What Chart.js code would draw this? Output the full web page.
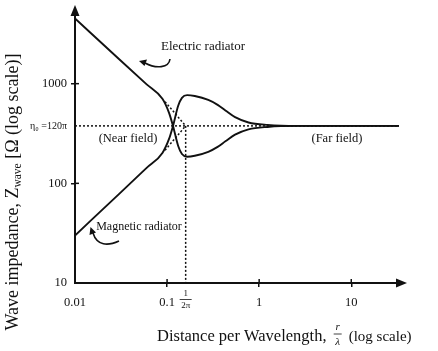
<!DOCTYPE html>
<html>
<head>
<meta charset="utf-8">
<script src="https://cdn.jsdelivr.net/npm/chart.js@4.4.1/dist/chart.umd.min.js"></script>
<style>
  html, body { margin: 0; padding: 0; background: #fff; }
  canvas { display: block; }
</style>
</head>
<body>
<canvas id="waveChart" width="438" height="351"></canvas>
<script>
// r/lambda values (log axis)
const distance  = [0.01, 0.03, 0.06, 0.089, 0.105, 0.116, 0.132, 0.145, 0.165, 0.2, 0.28, 0.354, 0.43, 0.547, 0.766, 1.23, 2.54, 33];
const electricZ = [4500, 1770, 984, 705, 510, 377, 237, 197, 185, 189, 207, 232, 264, 308, 348, 368, 377, 377];
const magneticZ = [30, 78, 143, 202, 279, 377, 600, 721, 768, 752, 686, 613, 538, 461, 408, 386, 377, 377];

// free-space impedance and the near/far boundary
const eta = 120 * Math.PI;
const boundary = 1 / (2 * Math.PI);

// dotted asymptotes (start points)
const electricAsym = [[0.095, 660], [boundary, eta]];
const magneticAsym = [[0.095, 215], [boundary, eta]];

const xTickValues = [0.01, 0.1, boundary, 1, 10];
const xTickLabels = ['0.01', '0.1', '1/2π', '1', '10'];
const yTickValues = [10, 100, eta, 1000];
const yTickLabels = ['10', '100', 'η₀ =120π', '1000'];

const serif = '"Liberation Serif", "Times New Roman", serif';
const ink = '#111';

const toPoints = (xs, ys) => xs.map((v, i) => ({ x: v, y: ys[i] }));
const pairs = arr => arr.map(p => ({ x: p[0], y: p[1] }));

// arrows, inner tick halves, fraction label, titles and callouts
const overlay = {
  id: 'overlay',
  afterDraw(chart) {
    const { ctx, chartArea: a, scales } = chart;
    const xs = scales.x, ys = scales.y;
    ctx.save();
    ctx.fillStyle = ink;
    ctx.strokeStyle = ink;

    // axis arrowheads
    ctx.beginPath();
    ctx.moveTo(a.left, a.top - 9);
    ctx.lineTo(a.left - 4.5, a.top + 2);
    ctx.lineTo(a.left + 4.5, a.top + 2);
    ctx.closePath();
    ctx.fill();
    ctx.beginPath();
    ctx.moveTo(a.right + 8, a.bottom);
    ctx.lineTo(a.right - 3, a.bottom - 4.5);
    ctx.lineTo(a.right - 3, a.bottom + 4.5);
    ctx.closePath();
    ctx.fill();

    // tick marks cross the axes
    ctx.lineWidth = 1.5;
    [100, 1000].forEach(v => {
      const py = ys.getPixelForValue(v);
      ctx.beginPath(); ctx.moveTo(a.left, py); ctx.lineTo(a.left + 4, py); ctx.stroke();
    });
    [0.1, 1, 10].forEach(v => {
      const px = xs.getPixelForValue(v);
      ctx.beginPath(); ctx.moveTo(px, a.bottom); ctx.lineTo(px, a.bottom - 4); ctx.stroke();
    });

    // 1/2π as a fraction
    const fx = xs.getPixelForValue(boundary);
    ctx.textAlign = 'center';
    ctx.textBaseline = 'middle';
    ctx.font = '9px ' + serif;
    ctx.fillText('1', fx, a.bottom + 11);
    ctx.fillText('2π', fx, a.bottom + 23);
    ctx.lineWidth = 0.8;
    ctx.beginPath(); ctx.moveTo(fx - 6, a.bottom + 16.5); ctx.lineTo(fx + 6, a.bottom + 16.5); ctx.stroke();

    // y title with subscript
    ctx.save();
    ctx.translate(13, 192);
    ctx.rotate(-Math.PI / 2);
    ctx.textAlign = 'left';
    const big = '18px ' + serif, small = '11.5px ' + serif;
    const p1 = 'Wave impedance, Z', p2 = 'wave', p3 = ' [Ω (log scale)]';
    ctx.font = big;
    const w1 = ctx.measureText(p1).width, w3 = ctx.measureText(p3).width;
    ctx.font = small;
    const w2 = ctx.measureText(p2).width;
    let cx = -(w1 + w2 + w3) / 2;
    ctx.font = big; ctx.fillText(p1, cx, 0); cx += w1;
    ctx.font = small; ctx.fillText(p2, cx, 5); cx += w2;
    ctx.font = big; ctx.fillText(p3, cx, 0);
    ctx.restore();

    // x title with r/λ fraction
    ctx.textAlign = 'left';
    ctx.font = '16.5px ' + serif;
    const t1 = 'Distance per Wavelength, ', t2 = '(log scale)';
    let tx = 157;
    const ty = 337;
    ctx.fillText(t1, tx, ty);
    tx += ctx.measureText(t1).width + 3;
    ctx.font = 'italic 11px ' + serif;
    ctx.textAlign = 'center';
    ctx.fillText('r', tx + 4, ty - 10);
    ctx.fillText('λ', tx + 4, ty + 5);
    ctx.lineWidth = 0.8;
    ctx.beginPath(); ctx.moveTo(tx, ty - 3); ctx.lineTo(tx + 8, ty - 3); ctx.stroke();
    ctx.textAlign = 'left';
    ctx.font = '15px ' + serif;
    ctx.fillText(t2, tx + 15, ty);

    // region labels
    const etaY = ys.getPixelForValue(eta);
    ctx.font = '12.5px ' + serif;
    ctx.textAlign = 'center';
    ctx.fillText('(Near field)', 128, etaY + 13);
    ctx.fillText('(Far field)', 337, etaY + 13);

    // callouts
    ctx.font = '13px ' + serif;
    ctx.fillText('Electric radiator', 203, 47);
    ctx.font = '12px ' + serif;
    ctx.fillText('Magnetic radiator', 139, 227);
    ctx.lineWidth = 1.6;
    ctx.beginPath();
    ctx.moveTo(170, 59);
    ctx.bezierCurveTo(169, 68, 156, 69, 145, 63);
    ctx.stroke();
    ctx.beginPath();
    ctx.moveTo(139, 61); ctx.lineTo(147, 59.5); ctx.lineTo(144.5, 66); ctx.closePath(); ctx.fill();
    ctx.beginPath();
    ctx.moveTo(119, 241);
    ctx.bezierCurveTo(108, 246, 97, 246, 93, 233);
    ctx.stroke();
    ctx.beginPath();
    ctx.moveTo(90.5, 227); ctx.lineTo(89.5, 235); ctx.lineTo(96, 232.5); ctx.closePath(); ctx.fill();

    ctx.restore();
  }
};

const solid = { borderColor: ink, borderWidth: 1.9, pointRadius: 0, fill: false, cubicInterpolationMode: 'monotone' };
const dotted = { borderColor: ink, borderWidth: 1.5, borderDash: [2, 2], pointRadius: 0, fill: false, tension: 0 };

const ctx = document.getElementById('waveChart').getContext('2d');
new Chart(ctx, {
  type: 'line',
  data: {
    datasets: [
      Object.assign({ label: 'eta', data: pairs([[0.01, eta], [33, eta]]) }, dotted),
      Object.assign({ label: 'boundary', data: pairs([[boundary, eta], [boundary, 10]]) }, dotted),
      Object.assign({ label: 'electric asymptote', data: pairs(electricAsym) }, dotted),
      Object.assign({ label: 'magnetic asymptote', data: pairs(magneticAsym) }, dotted),
      Object.assign({ label: 'Electric radiator', data: toPoints(distance, electricZ) }, solid),
      Object.assign({ label: 'Magnetic radiator', data: toPoints(distance, magneticZ) }, solid),
    ],
  },
  options: {
    responsive: false,
    devicePixelRatio: 1,
    animation: false,
    layout: { padding: { top: 14, right: 39, left: 0, bottom: 0 } },
    plugins: { legend: { display: false }, tooltip: { enabled: false } },
    scales: {
      x: {
        type: 'logarithmic',
        min: 0.01,
        max: 33,
        afterBuildTicks: s => { s.ticks = xTickValues.map(v => ({ value: v })); },
        afterFit: s => { s.height = 68; },
        border: { display: true, color: ink, width: 2 },
        grid: {
          drawOnChartArea: false,
          tickLength: 4,
          lineWidth: 1.5,
          color: c => (c.tick && (c.tick.value === 0.01 || c.tick.value === boundary)) ? 'rgba(0,0,0,0)' : ink,
        },
        ticks: {
          autoSkip: false,
          maxRotation: 0,
          padding: 8,
          color: ink,
          font: { family: serif, size: 12.5 },
          callback: function (v, i) {
            const lbl = xTickLabels[i];
            return lbl.indexOf('/') >= 0 ? '' : lbl;
          },
        },
      },
      y: {
        type: 'logarithmic',
        min: 10,
        max: 5000,
        afterBuildTicks: s => { s.ticks = yTickValues.map(v => ({ value: v })); },
        afterFit: s => { s.width = 75; },
        border: { display: true, color: ink, width: 2 },
        grid: {
          drawOnChartArea: false,
          tickLength: 4,
          lineWidth: 1.5,
          color: c => (c.tick && (c.tick.value === 10 || c.tick.value === eta)) ? 'rgba(0,0,0,0)' : ink,
        },
        ticks: {
          autoSkip: false,
          padding: 4,
          color: ink,
          font: c => ({ family: serif, size: (c.tick && c.tick.value === eta) ? 10 : 12.5 }),
          callback: function (v, i) { return yTickLabels[i]; },
        },
      },
    },
  },
  plugins: [overlay],
});
</script>
</body>
</html>
